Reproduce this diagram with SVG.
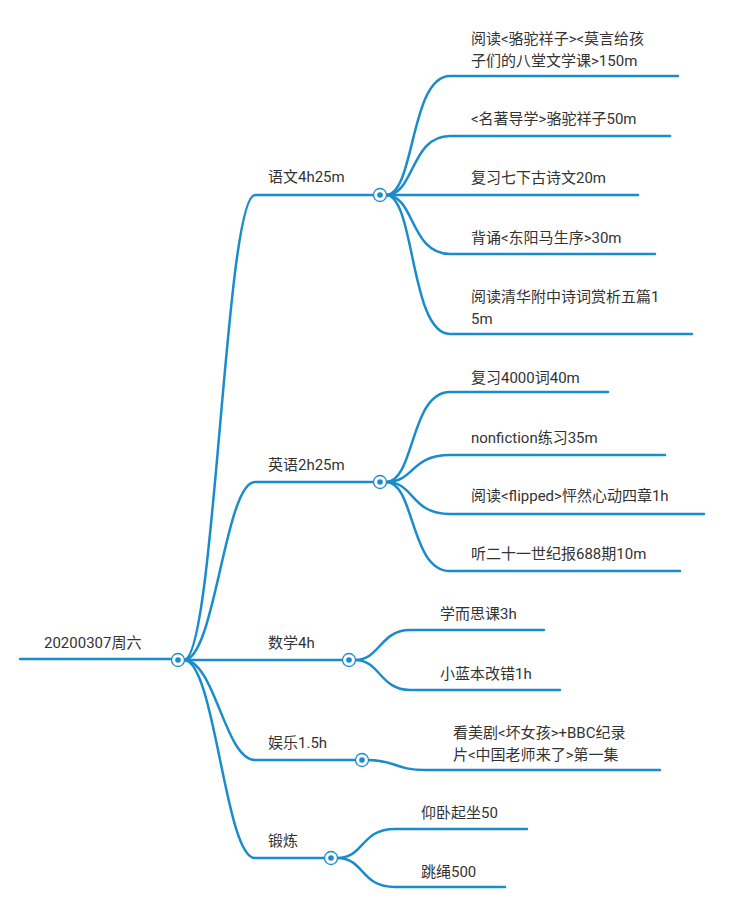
<svg xmlns="http://www.w3.org/2000/svg" width="737" height="908" viewBox="0 0 737 908">
<style>
.c{fill:none;stroke:#1a8ccc;stroke-width:2.5;stroke-linecap:round}
.t{font-family:Roboto,"Noto Sans CJK SC",sans-serif;font-size:15px;fill:#333}
.o{fill:#fff;stroke:#1a8ccc;stroke-width:1.3}
.i{fill:#1a8ccc}
</style>
<rect width="737" height="908" fill="#fff"/>
<g id="connectors">
<path class="c" d="M20,659 H172"/>
<path class="c" d="M184,660 C215,660 225,195 255,195 H374"/>
<path class="c" d="M184,660 C215,660 225,482 255,482 H374"/>
<path class="c" d="M184,660 H343"/>
<path class="c" d="M184,660 C215,660 225,760 255,760 H356"/>
<path class="c" d="M184,660 C215,660 225,858 255,858 H325"/>
<path class="c" d="M386,195 C415,195 410,76 450,76 H678"/>
<path class="c" d="M386,195 C415,195 410,136 450,136 H670"/>
<path class="c" d="M386,195 H638"/>
<path class="c" d="M386,195 C415,195 410,254 450,254 H655"/>
<path class="c" d="M386,195 C415,195 410,334 450,334 H692"/>
<path class="c" d="M386,482 C415,482 410,392 450,392 H608"/>
<path class="c" d="M386,482 C415,482 410,455 450,455 H665"/>
<path class="c" d="M386,482 C415,482 410,514 450,514 H704"/>
<path class="c" d="M386,482 C415,482 410,571 450,571 H680"/>
<path class="c" d="M355,660 C380,660 380,630 410,630 H544"/>
<path class="c" d="M355,660 C380,660 380,690 410,690 H560"/>
<path class="c" d="M368,760 C395,760 395,770 425,770 H660"/>
<path class="c" d="M337,858 C365,858 360,829 395,829 H527"/>
<path class="c" d="M337,858 C365,858 360,887 395,887 H505"/>
</g>
<g id="root"><text class="t" x="44" y="648">20200307周六</text><circle class="o" cx="178" cy="660" r="6.5"/><circle class="i" cx="178" cy="660" r="2.8"/></g>
<g id="yuwen"><text class="t" x="268" y="182">语文4h25m</text><circle class="o" cx="380" cy="195" r="6.5"/><circle class="i" cx="380" cy="195" r="2.8"/></g>
<g id="yingyu"><text class="t" x="268" y="470">英语2h25m</text><circle class="o" cx="380" cy="482" r="6.5"/><circle class="i" cx="380" cy="482" r="2.8"/></g>
<g id="shuxue"><text class="t" x="268" y="648">数学4h</text><circle class="o" cx="349" cy="660" r="6.5"/><circle class="i" cx="349" cy="660" r="2.8"/></g>
<g id="yule"><text class="t" x="268" y="748">娱乐1.5h</text><circle class="o" cx="362" cy="760" r="6.5"/><circle class="i" cx="362" cy="760" r="2.8"/></g>
<g id="duanlian"><text class="t" x="268" y="846">锻炼</text><circle class="o" cx="331" cy="858" r="6.5"/><circle class="i" cx="331" cy="858" r="2.8"/></g>
<g id="y1"><text class="t" x="471" y="44">阅读&lt;骆驼祥子&gt;&lt;莫言给孩</text><text class="t" x="471" y="66">子们的八堂文学课&gt;150m</text></g>
<g id="y2"><text class="t" x="471" y="124">&lt;名著导学&gt;骆驼祥子50m</text></g>
<g id="y3"><text class="t" x="471" y="183">复习七下古诗文20m</text></g>
<g id="y4"><text class="t" x="471" y="243">背诵&lt;东阳马生序&gt;30m</text></g>
<g id="y5"><text class="t" x="471" y="302">阅读清华附中诗词赏析五篇1</text><text class="t" x="471" y="324">5m</text></g>
<g id="e1"><text class="t" x="471" y="383">复习4000词40m</text></g>
<g id="e2"><text class="t" x="471" y="443">nonfiction练习35m</text></g>
<g id="e3"><text class="t" x="471" y="501">阅读&lt;flipped&gt;怦然心动四章1h</text></g>
<g id="e4"><text class="t" x="471" y="559">听二十一世纪报688期10m</text></g>
<g id="s1"><text class="t" x="440" y="619">学而思课3h</text></g>
<g id="s2"><text class="t" x="440" y="679">小蓝本改错1h</text></g>
<g id="l1"><text class="t" x="453" y="738">看美剧&lt;坏女孩&gt;+BBC纪录</text><text class="t" x="453" y="760">片&lt;中国老师来了&gt;第一集</text></g>
<g id="d1"><text class="t" x="421" y="818">仰卧起坐50</text></g>
<g id="d2"><text class="t" x="421" y="877">跳绳500</text></g>
</svg>
